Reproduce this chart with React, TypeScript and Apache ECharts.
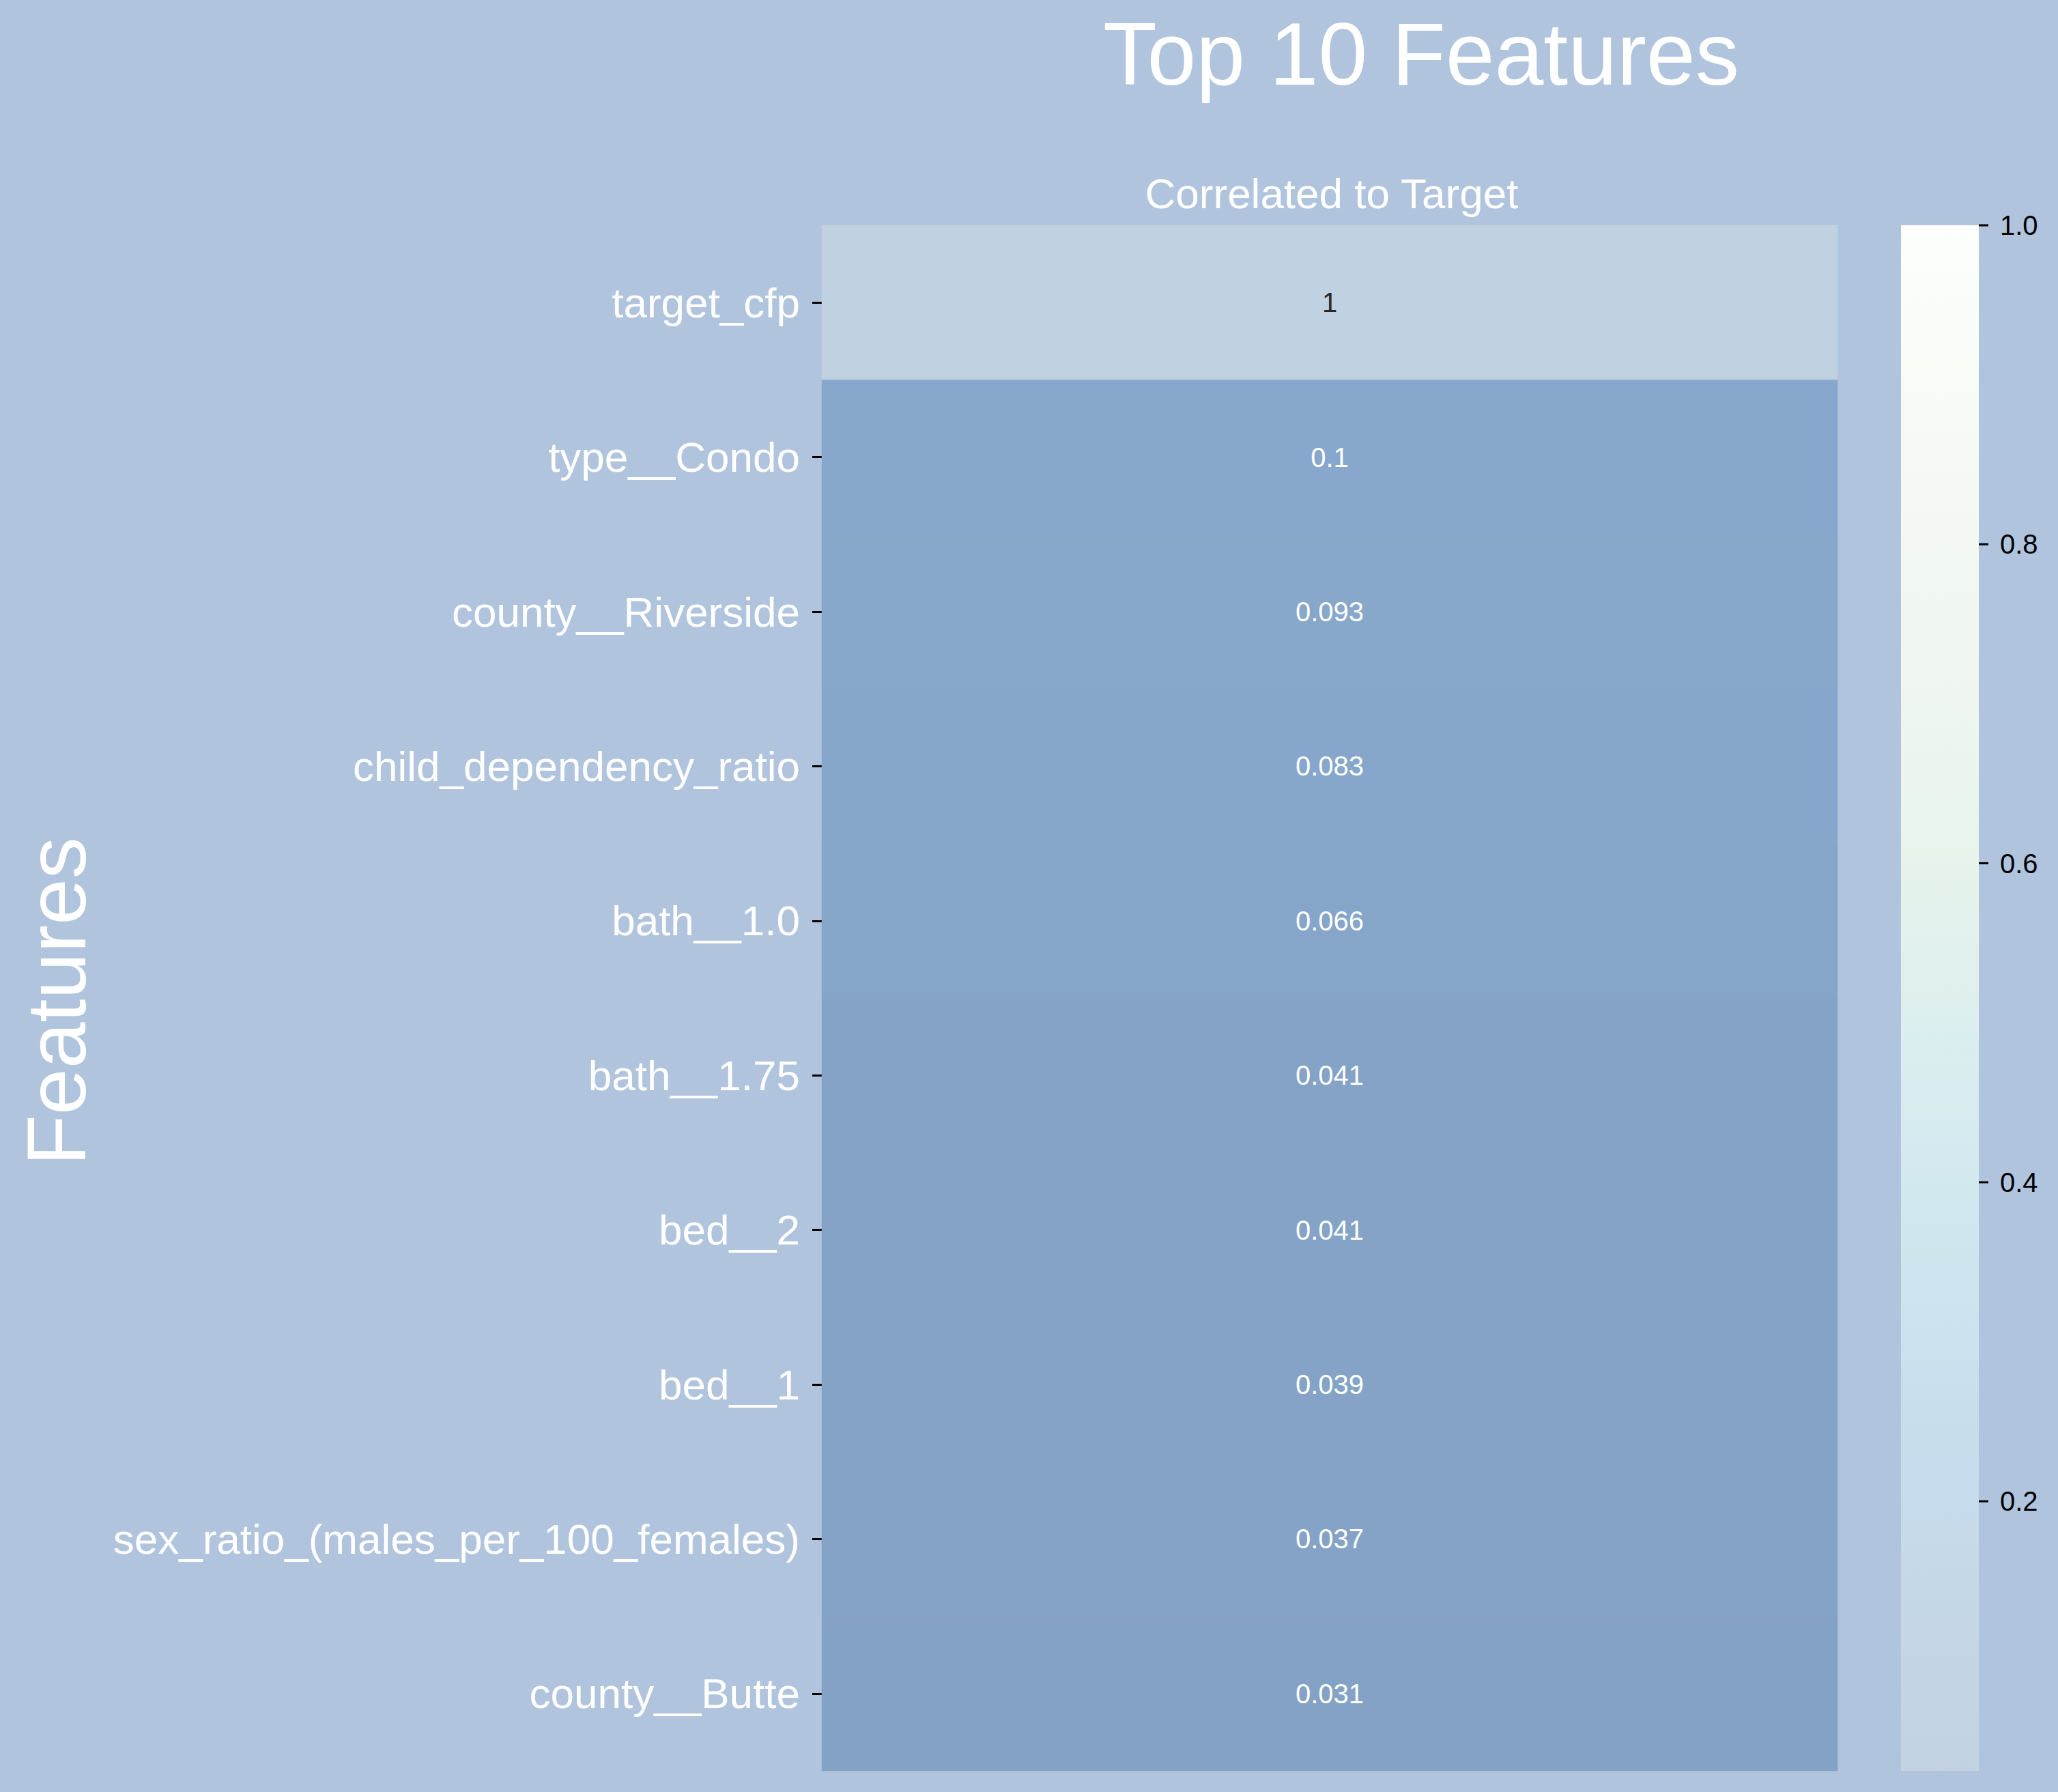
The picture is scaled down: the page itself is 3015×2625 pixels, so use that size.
import React, { useEffect, useRef } from "react";
import * as echarts from "echarts";

const features = [
  "target_cfp",
  "type__Condo",
  "county__Riverside",
  "child_dependency_ratio",
  "bath__1.0",
  "bath__1.75",
  "bed__2",
  "bed__1",
  "sex_ratio_(males_per_100_females)",
  "county__Butte",
];
const correlations = [1, 0.1, 0.093, 0.083, 0.066, 0.041, 0.041, 0.039, 0.037, 0.031];
const columnLabel = ["Correlated to Target"];
const colorbarTicks = [0.2, 0.4, 0.6, 0.8, 1.0];
const cellColors = ["#84a2c6", "#8eb7db", "#a0c2de", "#b0cae0", "#c0d2e2"];
const colorbarColors = ["#c2d2e2", "#c6dcec", "#d4eaf0", "#e8f4ec", "#f3f8f2", "#fcfffc"];

const FONT = "'Liberation Sans', Arial, Helvetica, sans-serif";

export default function App() {
  const ref = useRef<HTMLDivElement>(null);

  useEffect(() => {
    if (!ref.current) return;
    const chart = echarts.init(ref.current, null, { renderer: "svg" });
    const vMin = Math.min(...correlations);
    const vMax = Math.max(...correlations);

    const heatData = correlations.map((v, i) => ({
      value: [0, i, v],
      label: { color: v >= 0.5 ? "#262626" : "#ffffff" },
    }));

    const gradientStops = colorbarColors.map((c, i) => ({
      offset: i / (colorbarColors.length - 1),
      color: c,
    }));

    const option: any = {
      animation: false,
      backgroundColor: "#b0c4de",
      textStyle: { fontFamily: FONT },
      grid: [
        { left: 1204, top: 330, width: 1488, height: 2264 },
        { left: 2785, top: 330, width: 114, height: 2264 },
      ],
      xAxis: [
        { type: "category", data: columnLabel, gridIndex: 0, show: false },
        { type: "value", gridIndex: 1, show: false, min: 0, max: 1 },
      ],
      yAxis: [
        {
          type: "category",
          data: features,
          gridIndex: 0,
          inverse: true,
          axisLine: { show: false },
          splitLine: { show: false },
          axisTick: {
            show: true,
            alignWithLabel: true,
            length: 14,
            lineStyle: { color: "#000000", width: 3 },
          },
          axisLabel: {
            color: "#ffffff",
            fontSize: 62,
            fontFamily: FONT,
            margin: 32,
          },
        },
        {
          type: "value",
          gridIndex: 1,
          position: "right",
          min: vMin,
          max: vMax,
          axisLine: { show: false },
          splitLine: { show: false },
          axisTick: { show: false },
          axisLabel: {
            show: true,
            customValues: colorbarTicks,
            formatter: (v: number) => v.toFixed(1),
            color: "#000000",
            fontSize: 40,
            fontFamily: FONT,
            margin: 31,
          },
        },
      ],
      visualMap: [
        {
          type: "continuous",
          show: false,
          seriesIndex: 0,
          dimension: 2,
          min: vMin,
          max: vMax,
          inRange: { color: cellColors },
        },
      ],
      graphic: [
        {
          type: "text",
          x: 2082,
          y: 79,
          style: {
            text: "Top 10 Features",
            fontSize: 129,
            fontFamily: FONT,
            fill: "#ffffff",
            textAlign: "center",
            textVerticalAlign: "middle",
          },
        },
        {
          type: "text",
          x: 1951,
          y: 283,
          style: {
            text: columnLabel[0],
            fontSize: 62,
            fontFamily: FONT,
            fill: "#ffffff",
            textAlign: "center",
            textVerticalAlign: "middle",
          },
        },
        {
          type: "text",
          x: 83,
          y: 1467,
          rotation: Math.PI / 2,
          style: {
            text: "Features",
            fontSize: 122,
            fontFamily: FONT,
            fill: "#ffffff",
            textAlign: "center",
            textVerticalAlign: "middle",
          },
        },
      ],
      series: [
        {
          type: "heatmap",
          xAxisIndex: 0,
          yAxisIndex: 0,
          data: heatData,
          label: {
            show: true,
            fontSize: 40,
            fontFamily: FONT,
            formatter: (p: any) => String(p.value[2]),
          },
          itemStyle: { borderWidth: 0 },
          emphasis: { disabled: true },
        },
        {
          // colorbar body, spanning the data range on the colorbar axis
          type: "custom",
          xAxisIndex: 1,
          yAxisIndex: 1,
          clip: false,
          silent: true,
          data: [[vMin, vMax]],
          encode: { y: [0, 1] },
          renderItem: (params: any, api: any) => {
            const lo = api.value(0);
            const hi = api.value(1);
            const tl = api.coord([0, hi]);
            const br = api.coord([1, lo]);
            return {
              type: "rect",
              shape: { x: tl[0], y: tl[1], width: br[0] - tl[0], height: br[1] - tl[1] },
              style: { fill: new echarts.graphic.LinearGradient(0, 1, 0, 0, gradientStops) },
            };
          },
        },
        {
          // colorbar ticks
          type: "custom",
          xAxisIndex: 1,
          yAxisIndex: 1,
          clip: false,
          silent: true,
          data: colorbarTicks.map((v) => [1, v]),
          encode: { x: 0, y: 1 },
          renderItem: (params: any, api: any) => {
            const p = api.coord([api.value(0), api.value(1)]);
            return {
              type: "line",
              shape: { x1: p[0], y1: p[1], x2: p[0] + 14, y2: p[1] },
              style: { stroke: "#000000", lineWidth: 3 },
            };
          },
        },
      ],
    };

    chart.setOption(option);
    return () => chart.dispose();
  }, []);

  return (
    <div
      ref={ref}
      style={{ position: "absolute", left: 0, top: 0, width: 3015, height: 2625, overflow: "hidden" }}
    />
  );
}
